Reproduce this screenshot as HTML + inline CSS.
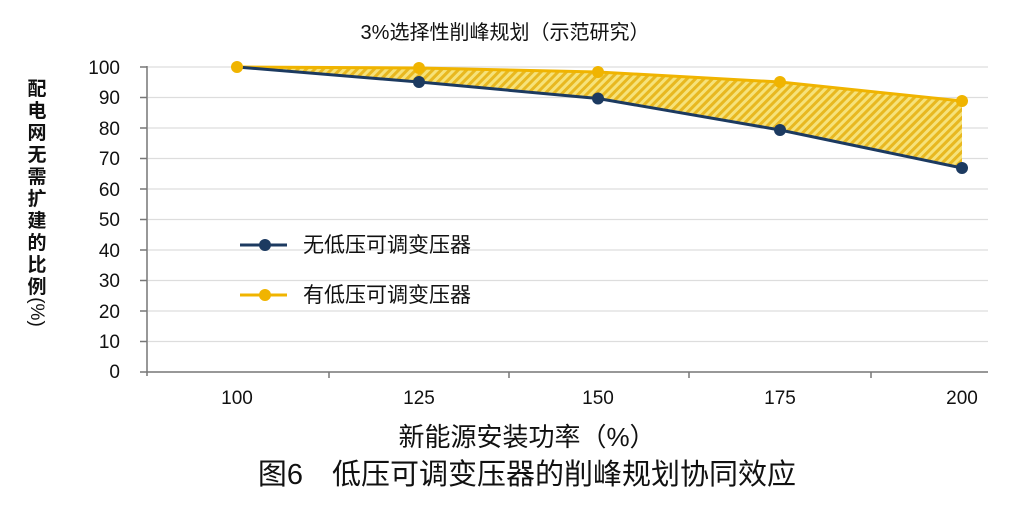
<!DOCTYPE html>
<html><head><meta charset="utf-8"><style>
body{margin:0;background:#fff;}
svg text{font-family:"Liberation Sans","Noto Sans CJK SC",sans-serif;fill:#111;}
</style></head><body>
<svg width="1018" height="505" viewBox="0 0 1018 505" xmlns="http://www.w3.org/2000/svg">
<defs>
<pattern id="h" width="6" height="6" patternUnits="userSpaceOnUse" patternTransform="rotate(45)">
<rect width="6" height="6" fill="#f6e27a"/>
<rect width="3" height="6" fill="#e8b820"/>
</pattern>
</defs>
<text x="505" y="39" font-size="20" text-anchor="middle">3%选择性削峰规划（示范研究）</text>
<g stroke="#ddd" stroke-width="1.3">
<line x1="148" y1="67" x2="988" y2="67"/><line x1="148" y1="97.5" x2="988" y2="97.5"/>
<line x1="148" y1="128" x2="988" y2="128"/><line x1="148" y1="158.5" x2="988" y2="158.5"/>
<line x1="148" y1="189" x2="988" y2="189"/><line x1="148" y1="219.5" x2="988" y2="219.5"/>
<line x1="148" y1="250" x2="988" y2="250"/><line x1="148" y1="280.5" x2="988" y2="280.5"/>
<line x1="148" y1="311" x2="988" y2="311"/><line x1="148" y1="341.5" x2="988" y2="341.5"/>
</g>
<g stroke="#777" stroke-width="1.5">
<line x1="147" y1="66" x2="147" y2="376"/><line x1="140" y1="372" x2="988" y2="372"/>
<line x1="140" y1="67" x2="147" y2="67"/><line x1="140" y1="97.5" x2="147" y2="97.5"/><line x1="140" y1="128" x2="147" y2="128"/><line x1="140" y1="158.5" x2="147" y2="158.5"/><line x1="140" y1="189" x2="147" y2="189"/><line x1="140" y1="219.5" x2="147" y2="219.5"/><line x1="140" y1="250" x2="147" y2="250"/><line x1="140" y1="280.5" x2="147" y2="280.5"/><line x1="140" y1="311" x2="147" y2="311"/><line x1="140" y1="341.5" x2="147" y2="341.5"/>
<line x1="329" y1="372" x2="329" y2="378"/><line x1="509" y1="372" x2="509" y2="378"/><line x1="689" y1="372" x2="689" y2="378"/><line x1="871" y1="372" x2="871" y2="378"/>
</g>
<g font-size="19" text-anchor="end">
<text x="120" y="74">100</text><text x="120" y="104">90</text><text x="120" y="135">80</text><text x="120" y="165">70</text><text x="120" y="196">60</text><text x="120" y="226">50</text><text x="120" y="257">40</text><text x="120" y="287">30</text><text x="120" y="318">20</text><text x="120" y="348">10</text><text x="120" y="378">0</text>
</g>
<g font-size="19" text-anchor="middle">
<text x="237" y="404">100</text><text x="419" y="404">125</text><text x="598" y="404">150</text><text x="780" y="404">175</text><text x="962" y="404">200</text>
</g>
<polygon points="237,67 419,68 598,72 780,82 962,101 962,168 780,130 598,98.5 419,82" fill="url(#h)"/>
<polyline points="237,67 419,68 598,72 780,82 962,101" fill="none" stroke="#f0b400" stroke-width="3"/>
<polyline points="237,67 419,82 598,98.5 780,130 962,168" fill="none" stroke="#1c3a60" stroke-width="3"/>
<g fill="#f0b400"><circle cx="237" cy="67" r="6"/><circle cx="419" cy="68" r="6"/><circle cx="598" cy="72" r="6"/><circle cx="780" cy="82" r="6"/><circle cx="962" cy="101" r="6"/></g>
<g fill="#1c3a60"><circle cx="419" cy="82" r="6"/><circle cx="598" cy="98.5" r="6"/><circle cx="780" cy="130" r="6"/><circle cx="962" cy="168" r="6"/></g>
<line x1="240" y1="245" x2="287" y2="245" stroke="#1c3a60" stroke-width="3"/><circle cx="265" cy="245" r="6" fill="#1c3a60"/>
<text x="303" y="252" font-size="21">无低压可调变压器</text>
<line x1="240" y1="295" x2="287" y2="295" stroke="#f0b400" stroke-width="3"/><circle cx="265" cy="295" r="6" fill="#f0b400"/>
<text x="303" y="302" font-size="21">有低压可调变压器</text>
<g font-size="19" text-anchor="middle" font-weight="bold">
<text x="37" y="95">配</text><text x="37" y="117">电</text><text x="37" y="139">网</text><text x="37" y="161">无</text><text x="37" y="183">需</text><text x="37" y="205">扩</text><text x="37" y="227">建</text><text x="37" y="249">的</text><text x="37" y="271">比</text><text x="37" y="293">例</text>
<text x="37" y="318" transform="rotate(90 37 312)" font-weight="normal">(%)</text>
</g>
<text x="527" y="446" font-size="26" text-anchor="middle">新能源安装功率（%）</text>
<text x="527" y="484" font-size="29" text-anchor="middle">图6　低压可调变压器的削峰规划协同效应</text>
</svg>
</body></html>
